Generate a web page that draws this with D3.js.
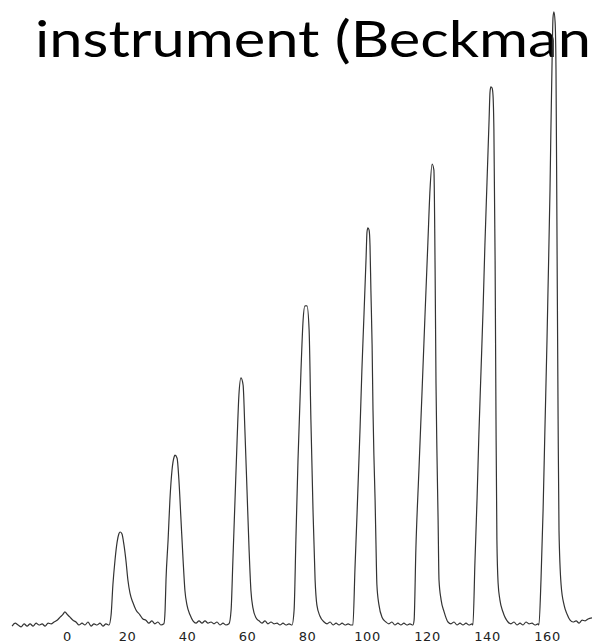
<!DOCTYPE html>
<html>
<head>
<meta charset="utf-8">
<title>Chromatogram trace</title>
<script src="https://cdn.jsdelivr.net/npm/d3@7"></script>
<style>
    body { margin: 0; background: #fff; }
    .title { font-family: Lato, "Open Sans", sans-serif; font-size: 50px; fill: #000; }
    .axis text { font-family: "DejaVu Sans", sans-serif; font-size: 13px; letter-spacing: 0.6px; fill: #222; }
    .trace { fill: none; stroke: #333; stroke-width: 1.2px; stroke-linejoin: round; }
</style>
</head>
<body>
<svg id="chart"></svg>
<script>
    // trace: [time, signal]
    var baseline0 = [[-18.3,-0.2],[-17.3,0.3],[-16.3,0],[-15.3,-0.3],[-14.3,0.2],[-13.3,-0.2],[-12.3,0.2],[-11.3,-0.2],
        [-10.3,0.3],[-9.3,0],[-8.3,0.2],[-7.3,-0.2],[-6.3,0.3],[-5.3,0.2],[-4.3,0.5],[-3.3,0.8],[-2.3,1.3],[-1.3,1.8],
        [-0.7,2.2],[0,1.8],[1,1.3],[2,0.8],[3,0.5],[4,0],[5,0.3],[6,0],[7,0.5],[8,-0.2],[9,0.2],[10,0],[11,0.3],
        [12,-0.2],[13,0.2],[14,0]];
    var peak20 = [[14.7,1.7],[15.3,6.7],[16.0,10.8],[16.7,13.8],[17.3,15.2],[17.7,15.5],[18.3,15.2],[19.0,13.3],
        [19.7,10.5],[20.3,7.5],[21.0,5.3],[22.0,3.7],[23.0,2.5],[24.3,1.7],[25.3,1.0],[26.3,0.8],[27.3,0.3],
        [28.3,0.7],[29.3,0.2],[30.3,0.5],[31.3,0],[32.3,0.2]];
    var peak40 = [[32.7,2.5],[33.0,7.5],[33.7,14.2],[34.3,20.8],[35.0,25.8],[35.7,28.0],[36.0,28.3],[36.7,27.8],
        [37.3,24.2],[38.0,17.5],[38.7,10.8],[39.3,5.8],[40.0,3.3],[41.0,1.7],[42.0,0.7],[43.0,0.3],[44.0,0.7],
        [45.0,0.3],[46.0,0.7],[47.0,0.3],[48.0,0.5],[49.0,0.2],[50.0,0.5],[51.0,0],[52.0,0.3],[53.0,0],[54.0,0.2]];
    var peak60 = [[54.7,2.5],[55.3,10.8],[56.0,20.8],[56.7,30.8],[57.3,38.3],[58.0,41.2],[58.7,40.0],[59.3,32.5],
        [60.0,22.5],[60.7,12.5],[61.3,5.8],[62.0,2.8],[63.0,1.2],[64.0,0.7],[65.0,0.3],[66.0,0.7],[67.0,0.2],
        [68.0,0.5],[69.0,0.2],[70.0,0.3],[71.0,0],[72.0,0.3],[73.0,0],[74.0,0.2],[75.0,0]];
    var peak80 = [[75.7,2.5],[76.3,14.2],[77.0,27.5],[78.0,42.5],[78.7,50.8],[79.3,53.2],[80.0,53.2],[80.7,49.2],
        [81.3,34.2],[82.0,19.2],[82.7,7.5],[83.3,3.3],[84.3,1.5],[85.7,0.5],[86.7,0.2],[87.7,0.5],[88.7,0],
        [89.7,0.3],[90.7,0],[91.7,0.3],[92.7,0],[93.7,0.2],[94.7,0],[95.3,0]];
    var peak100 = [[96.0,9.5],[96.7,18.8],[97.7,33.0],[98.3,42.5],[99.0,51.8],[99.7,61.3],[100.0,65.5],[100.3,66.2],
        [100.7,65.8],[101.0,63.3],[101.3,55.8],[101.7,46.7],[102.0,35.8],[102.3,28.3],[102.7,20.8],[103.0,13.3],
        [103.3,6.7],[104.0,3.3],[105.0,1.3],[106.3,0.5],[107.3,0.2],[108.3,0.5],[109.3,0],[110.3,0.3],[111.3,0],
        [112.3,0.3],[113.3,0],[114.3,0.2],[115.3,0]];
    var peak120 = [[115.7,0.8],[116.3,12.8],[117.3,25.7],[118.3,38.3],[119.3,51.2],[120.3,63.8],[121.0,72.5],
        [121.7,76.8],[122.3,75.8],[122.7,59.2],[123.0,40.3],[123.3,29.2],[123.7,17.5],[124.0,7.5],[124.7,4.2],
        [125.7,2.2],[127.0,0.5],[128.0,0.2],[129.0,0.5],[130.0,0],[131.0,0.3],[132.0,0],[133.0,0.3],[134.0,0],
        [135.0,0.2],[135.3,0]];
    var peak140 = [[136.0,10.8],[136.7,21.3],[137.3,31.8],[138.0,42.3],[138.7,52.8],[139.3,63.3],[140.0,73.8],
        [140.7,84.3],[141.0,88.8],[141.3,89.7],[141.7,89.5],[142.0,88.3],[142.3,82.5],[142.7,60.8],[143.0,34.2],
        [143.3,14.2],[143.7,7.0],[144.3,4.2],[145.3,2.2],[147.0,0.5],[148.0,0.2],[149.0,0.5],[150.0,0],[151.0,0.3],
        [152.0,0],[153.0,0.5],[154.0,0.2],[155.0,0.3],[156.0,0],[157.0,0.2],[157.3,0]];
    var peak160 = [[158.0,7.5],[158.7,19.2],[159.3,32.5],[160.0,47.5],[160.3,55.0],[161.0,72.5],[161.3,82.5],
        [161.7,94.2],[162.0,101.2],[162.3,102.2],[162.7,100.5],[163.0,92.5],[163.3,67.5],[163.7,34.2],[164.0,15.8],
        [164.7,6.7],[165.7,3.3],[166.7,1.8],[167.7,0.8],[168.7,0.5],[169.7,0.7],[170.7,0.3],[171.7,0.8],
        [172.7,0.7],[173.7,1.0],[175.0,1.2]];

    var tickValues = [0, 20, 40, 60, 80, 100, 120, 140, 160];
    var titleText = "instrument (Beckman";

    var trace = baseline0.concat(peak20, peak40, peak60, peak80, peak100, peak120, peak140, peak160);

    var width = 592, height = 644;

    var svg = d3.select("#chart")
        .attr("width", width)
        .attr("height", height);

    svg.append("rect").attr("width", width).attr("height", height).attr("fill", "#fff");

    // scales
    var x = d3.scaleLinear().domain([0, 160]).range([67, 547]);
    var y = d3.scaleLinear().domain([0, 102]).range([625, 13]);

    // slide title, cut off on the right
    svg.append("text")
        .attr("class", "title")
        .attr("x", 35)
        .attr("y", 57)
        .attr("textLength", 556)
        .attr("lengthAdjust", "spacingAndGlyphs")
        .text(titleText);

    // x axis: labels only
    var xAxis = svg.append("g")
        .attr("class", "axis")
        .attr("transform", "translate(0,628)")
        .call(d3.axisBottom(x).tickValues(tickValues).tickSize(0).tickPadding(4));
    xAxis.select(".domain").remove();

    var line = d3.line()
        .x(function(d) { return x(d[0]); })
        .y(function(d) { return y(d[1]); })
        .curve(d3.curveMonotoneX);

    svg.append("path")
        .datum(trace)
        .attr("class", "trace")
        .attr("d", line);
</script>
</body>
</html>
